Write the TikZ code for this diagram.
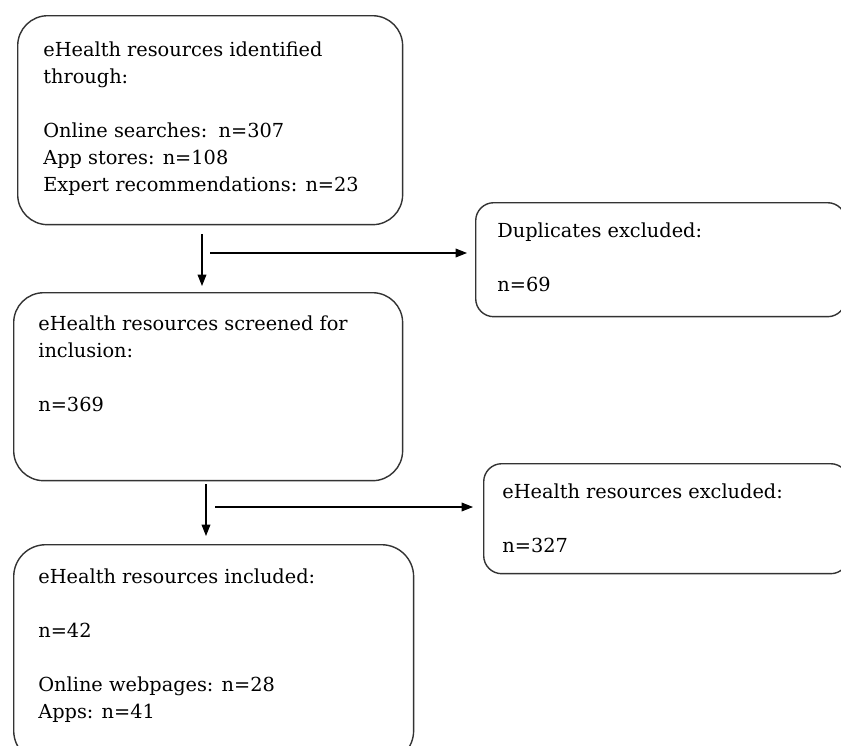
\documentclass[tikz,border=0pt]{standalone}
\usepackage{fontspec}
\setmainfont{DejaVu Serif}
\usetikzlibrary{arrows.meta}

\begin{document}
\begin{tikzpicture}[x=0.02cm, y=-0.02cm,
    box/.style={draw=black!80, line width=0.8pt, rectangle, anchor=north west, inner sep=0pt},
    bigbox/.style={box, rounded corners=0.6cm},
    smallbox/.style={box, rounded corners=0.36cm},
    txt/.style={anchor=north west, inner sep=0pt, align=left, font=\fontsize{11}{15.4}\selectfont},
    flow/.style={-{Triangle[length=6.5pt,width=5pt]}, line width=0.6pt}]

\useasboundingbox (0,0) rectangle (841,745);
\clip (0,0) rectangle (841,745);

% -----------------------------
% Boxes on the left (main flow)
% -----------------------------
\node[bigbox, minimum width=7.7cm, minimum height=4.18cm] (ident) at (17,15) {};
\node[bigbox, minimum width=7.78cm, minimum height=3.76cm] (screen) at (13,292) {};
\node[bigbox, minimum width=8cm, minimum height=4.36cm, rounded corners=0.64cm] (incl) at (13,544) {};

% -----------------------------
% Boxes on the right (exclusions)
% -----------------------------
\node[smallbox, minimum width=7.4cm, minimum height=2.28cm] (dup) at (475,202) {};
\node[smallbox, minimum width=7.3cm, minimum height=2.2cm] (excl) at (483,463) {};

% texts
\node[txt] (identtxt) at (43,41) {eHealth resources identified\\ through:\\[15.4pt]
    Online searches:\, n=307\\ App stores: n=108\\ Expert recommendations: n=23};
\node[txt] (screentxt) at (38,315) {eHealth resources screened for\\ inclusion:\\[15.4pt] n=369};
\node[txt] (incltxt) at (38,568) {eHealth resources included:\\[15.4pt] n=42\\[15.4pt]
    Online webpages: n=28\\ Apps: n=41};
\node[txt] (duptxt) at (497,222) {Duplicates excluded:\\[15.4pt] n=69};
\node[txt] (excltxt) at (502,483) {eHealth resources excluded:\\[15.4pt] n=327};

% -----------------------------
% Arrows
% -----------------------------
\coordinate (down1) at (202,234);
\coordinate (side1) at (210,253);
\coordinate (down2) at (206,484);
\coordinate (side2) at (215,507);

\draw[flow, shorten >=0.12cm] (down1) -- (down1 |- screen.north);
\draw[flow, shorten >=0.16cm] (side1) -- (side1 -| dup.west);
\draw[flow, shorten >=0.16cm] (down2) -- (down2 |- incl.north);
\draw[flow, shorten >=0.2cm] (side2) -- (side2 -| excl.west);

\end{tikzpicture}
\end{document}
